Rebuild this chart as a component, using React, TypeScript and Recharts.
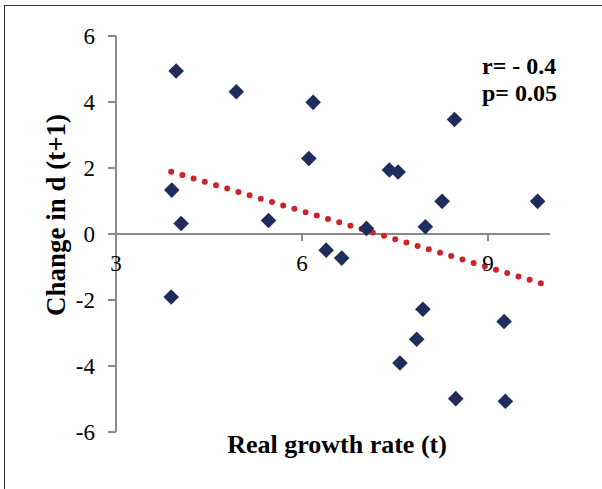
import {
  ScatterChart,
  Scatter,
  XAxis,
  YAxis,
  ReferenceLine,
  ReferenceDot,
} from 'recharts';

// values
const growth = [
  3.97, 4.94, 6.18, 6.11, 3.9, 4.05, 5.46, 8.46, 7.41, 7.55, 8.26, 9.8, 7.99,
  7.04, 3.89, 6.39, 6.64, 7.95, 9.26, 7.85, 7.58, 8.48, 9.28,
];
const changeD = [
  4.94, 4.31, 3.99, 2.29, 1.33, 0.32, 0.41, 3.47, 1.94, 1.88, 0.99, 0.99, 0.22,
  0.17, -1.91, -0.49, -0.73, -2.28, -2.65, -3.19, -3.91, -4.99, -5.07,
];
const trendX = [3.89, 9.87];
const trendY = [1.89, -1.5];
const xTicks = [3, 6, 9];
const yTicks = [-6, -4, -2, 0, 2, 4, 6];

const serif = '"Liberation Serif", "Times New Roman", serif';
const navy = '#1f2d5e';
const red = '#cc2229';
const axisGrey = '#8a8a8a';

const points = growth.map((x, i) => ({ x, y: changeD[i] }));

const Diamond = (props: any) => {
  const { cx, cy } = props;
  const r = 7.8;
  return (
    <polygon
      points={`${cx},${cy - r} ${cx + r},${cy} ${cx},${cy + r} ${cx - r},${cy}`}
      fill={navy}
    />
  );
};

// tick mark + label for the x axis, which crosses at y = 0
const XTick = (t: number) => (props: any) => {
  const { cx, cy } = props;
  return (
    <g>
      {t !== 3 && (
        <line x1={cx} y1={cy} x2={cx} y2={cy + 7} stroke={axisGrey} strokeWidth={2} />
      )}
      <text
        x={cx}
        y={cy + 37}
        textAnchor="middle"
        fontFamily={serif}
        fontSize={23}
        fill="#000"
      >
        {t}
      </text>
    </g>
  );
};

export default function App() {
  return (
    <div
      style={{
        position: 'absolute',
        left: 0,
        top: 0,
        width: 602,
        height: 489,
        overflow: 'hidden',
        background: '#fff',
      }}
    >
      <div
        style={{
          position: 'absolute',
          left: 4,
          top: 5,
          width: 700,
          height: 600,
          border: '1.5px solid #333',
        }}
      />
      <div style={{ position: 'absolute', left: 0, top: 0 }}>
        <ScatterChart
          width={602}
          height={489}
          margin={{ top: 36, right: 52, bottom: 57, left: 0 }}
        >
          <XAxis type="number" dataKey="x" domain={[3, 10]} hide />
          <YAxis
            type="number"
            dataKey="y"
            domain={[-6, 6]}
            ticks={yTicks}
            width={116}
            tickSize={8}
            tickMargin={13}
            stroke={axisGrey}
            strokeWidth={2}
            tick={{ fill: '#000', fontSize: 23, fontFamily: serif }}
            label={{
              content: () => (
                <text
                  x={65}
                  y={215}
                  transform="rotate(-90, 65, 215)"
                  textAnchor="middle"
                  fontFamily={serif}
                  fontWeight="bold"
                  fontSize={27}
                  fill="#000"
                >
                  Change in d (t+1)
                </text>
              ),
            }}
          />
          <ReferenceLine y={0} stroke={axisGrey} strokeWidth={2} />
          {xTicks.map((t) => (
            <ReferenceDot key={t} x={t} y={0} r={1} shape={XTick(t)} />
          ))}
          <ReferenceLine
            segment={[
              { x: trendX[0], y: trendY[0] },
              { x: trendX[1], y: trendY[1] },
            ]}
            stroke={red}
            strokeWidth={6}
            strokeDasharray="0 11.7"
            strokeLinecap="round"
          />
          <Scatter data={points} shape={Diamond} isAnimationActive={false} />
        </ScatterChart>
      </div>
      <svg
        width={602}
        height={489}
        style={{ position: 'absolute', left: 0, top: 0, pointerEvents: 'none' }}
      >
        <text
          x={337}
          y={453}
          textAnchor="middle"
          fontFamily={serif}
          fontWeight="bold"
          fontSize={26}
          fill="#000"
        >
          Real growth rate (t)
        </text>
        <text x={482} y={74} fontFamily={serif} fontWeight="bold" fontSize={24} fill="#000">
          r= - 0.4
        </text>
        <text x={482} y={101} fontFamily={serif} fontWeight="bold" fontSize={24} fill="#000">
          p= 0.05
        </text>
      </svg>
    </div>
  );
}
